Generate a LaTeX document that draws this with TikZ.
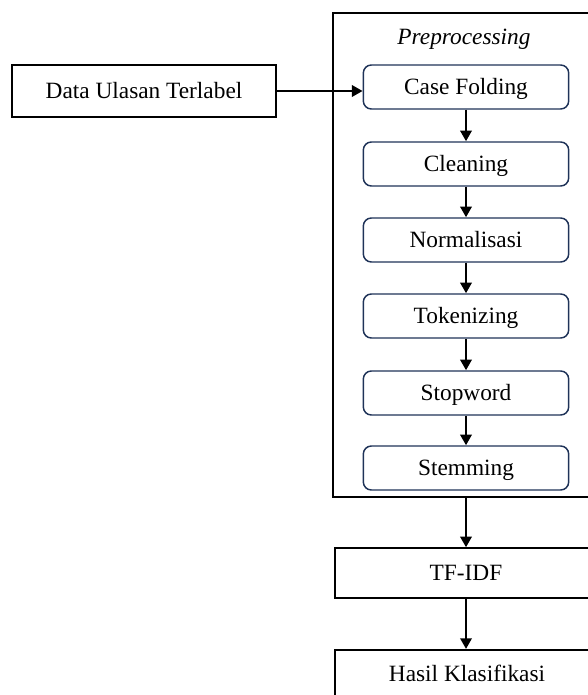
\documentclass[tikz,border=0pt]{standalone}
\usepackage{fontspec}
\setmainfont{Liberation Serif}
\usetikzlibrary{arrows.meta}

\definecolor{stepnavy}{HTML}{1F3358}

\tikzset{
  every node/.style={font=\fontsize{17.5}{20}\selectfont, text height=13pt, text depth=1.5pt},
  stepbox/.style={draw=stepnavy, line width=1.1pt, rounded corners=6pt, fill=white,
    minimum width=154pt, minimum height=33pt, inner sep=0pt},
  plainbox/.style={draw, line width=1.6pt, minimum height=39pt, inner sep=0pt},
  flow/.style={line width=1.8pt, -{Triangle[length=8pt,width=8.5pt]}}
}

\begin{document}
\begin{tikzpicture}[x=0.75pt, y=-0.75pt]
\useasboundingbox (0,0) rectangle (588,695);
\clip (0,0) rectangle (588,695);
% preprocessing frame
\node [draw, line width=1.4pt, minimum width=202pt, minimum height=363pt] (prep) at (468,255) {};
\node [font=\fontsize{17.5}{20}\selectfont\itshape] (preptitle) at (464,37) {Preprocessing};
% input
\node [plainbox, minimum width=198pt] (data) at (144,91) {Data Ulasan Terlabel};
% preprocessing steps
\node [stepbox] (casefold) at (466,87) {Case Folding};
\node [stepbox] (clean) at (466,164) {Cleaning};
\node [stepbox] (norm) at (466,240) {Normalisasi};
\node [stepbox] (token) at (466,316) {Tokenizing};
\node [stepbox] (stopw) at (466,393) {Stopword};
\node [stepbox] (stem) at (466,468) {Stemming};
% output
\node [plainbox, minimum width=196pt, minimum height=37pt] (tfidf) at (466,573) {TF-IDF};
\node [plainbox, minimum width=196pt] (hasil) at (466,676) {};
\node (hasiltext) at (467,674) {Hasil Klasifikasi};
% arrows
\draw [flow] (data) -- (data -| casefold.west);
\draw [flow] (casefold) -- (clean);
\draw [flow] (clean) -- (norm);
\draw [flow] (norm) -- (token);
\draw [flow] (token) -- (stopw);
\draw [flow] (stopw) -- (stem);
\draw [flow] (prep.south -| stem.south) -- (tfidf);
\draw [flow] (tfidf) -- (hasil);
\end{tikzpicture}
\end{document}
